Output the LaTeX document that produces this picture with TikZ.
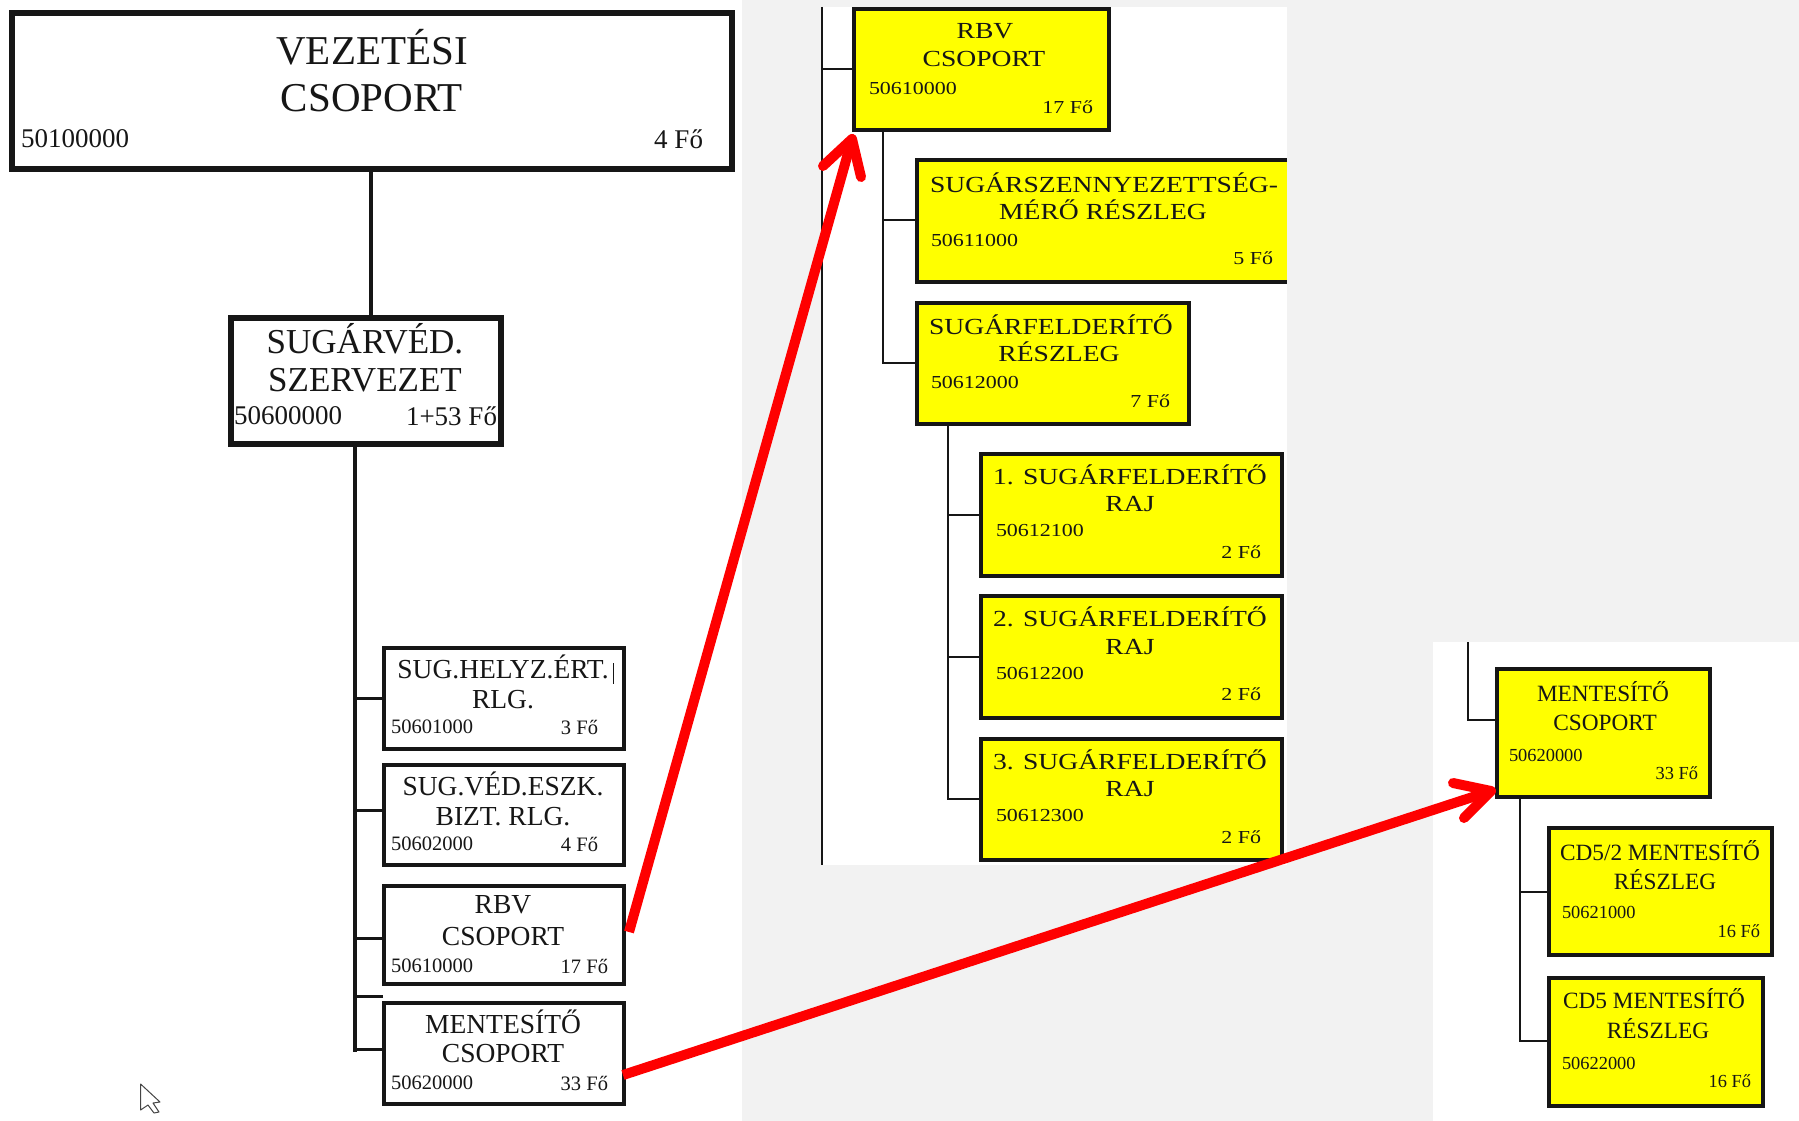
\documentclass[tikz,border=0pt]{standalone}
\usepackage{fontspec}
\setmainfont{Liberation Serif}
\newfontfamily\widefont[FakeStretch=1.2]{Liberation Serif}
\definecolor{pagegray}{HTML}{F2F2F2}
\definecolor{ink}{HTML}{161616}
\definecolor{arrowred}{HTML}{FE0000}
\definecolor{boxyellow}{HTML}{FFFF00}
\newcommand\fs[1]{\fontsize{#1}{#1}\selectfont}
\newcommand\bx[6]{\node[#2,minimum width={#5pt-#3pt},minimum height={#6pt-#4pt}] (#1) at ({(#3+#5)/2},{(#4+#6)/2}) {};}
\tikzset{
  x=1pt,y=-1pt,
  every node/.style={inner sep=0pt,outer sep=0pt,text=ink,align=center},
  plainbox/.style={draw=ink,fill=white,line width=3.6pt,rectangle},
  bigbox/.style={draw=ink,fill=white,line width=5.4pt,rectangle},
  ybox/.style={draw=ink,fill=boxyellow,line width=4.8pt,rectangle},
  yfill/.style={fill=boxyellow,rectangle},
  link/.style={draw=ink,line width=3pt},
  thinlink/.style={draw=ink,line width=2pt},
  redline/.style={draw=arrowred,line width=10pt},
  redhead/.style={draw=arrowred,line width=10pt,line cap=round,line join=round},
  hA/.style={font=\fs{41}},
  hB/.style={font=\fs{35}},
  hC/.style={font=\fs{27.5}},
  nA/.style={font=\fs{27}},
  nC/.style={font=\fs{20.5}},
  wT/.style={font=\widefont\fs{23}},
  wN/.style={font=\widefont\fs{18.3}},
  rT/.style={font=\fs{23.3}},
  rN/.style={font=\fs{18.4}},
}
\begin{document}
\begin{tikzpicture}
\useasboundingbox (0,0) rectangle (1799,1121);
% backgrounds
\fill[pagegray] (0,0) rectangle (1799,1121);
\fill[white] (0,0) rectangle (742,1121);
\fill[white] (822,7) rectangle (1287,865);
\fill[white] (1433,642) rectangle (1799,1121);

% ---------- left column ----------
\bx{vez}{bigbox}{12}{13}{732}{169}
\bx{szerv}{bigbox}{231}{318}{501}{444}
\bx{lhely}{plainbox}{384}{648}{624}{749}
\bx{lved}{plainbox}{384}{765}{624}{865}
\bx{lrbv}{plainbox}{384}{886}{624}{984}
\bx{lment}{plainbox}{384}{1003}{624}{1104}

\draw[draw=ink,line width=3.4pt] (vez.south -| 371,0) -- (szerv.north -| 371,0);
\draw[draw=ink,line width=4.8pt] (vez.south -| 371,0) -- (371,272);
\coordinate (ltop) at (355,444);
\coordinate (lbot) at (355,1052);
\draw[link,line width=3.4pt] (ltop) -- (lbot);
\draw[link] (lhely.west) -- (lhely.west -| ltop);
\draw[link] (lved.west |- 0,810) -- (355,810);
\draw[link] (lrbv.west |- 0,938) -- (355,938);
\coordinate (lstub) at (383,996);
\draw[link] (lstub) -- (lstub -| ltop);
\draw[link] (lment.west |- 0,1049) -- (355,1049);

\node[hA] (t1) at (372,47) {VEZETÉSI};
\node[hA] (t2) at (372,98) {CSOPORT};
\node[nA,anchor=west] (t3) at (21,139) {50100000};
\node[nA,anchor=east] (t4) at (703,139) {4 Fő};

\node[hB] (t5) at (365,339) {SUGÁRVÉD.};
\node[hB] (t6) at (365,380) {SZERVEZET};
\node[nA,anchor=west] (t7) at (234,416) {50600000};
\node[nA,anchor=east] (t8) at (497,416) {1+53 Fő};

\node[hC] (a1) at (503,667) {SUG.HELYZ.ÉRT.};
\node[hC] (a2) at (503,700) {RLG.};
\node[nC,anchor=west] (a3) at (391,727) {50601000};
\node[nC,anchor=east] (a4) at (598,727) {3 Fő};
\draw[draw=ink,line width=1.2pt] (613.5,663) -- (613.5,684);

\node[hC] (b1) at (503,784) {SUG.VÉD.ESZK.};
\node[hC] (b2) at (503,817) {BIZT. RLG.};
\node[nC,anchor=west] (b3) at (391,844) {50602000};
\node[nC,anchor=east] (b4) at (598,844) {4 Fő};

\node[hC] (c1) at (503,905) {RBV};
\node[hC] (c2) at (503,937) {CSOPORT};
\node[nC,anchor=west] (c3) at (391,966) {50610000};
\node[nC,anchor=east] (c4) at (608,966) {17 Fő};

\node[hC] (d1) at (503,1022) {MENTESÍTŐ};
\node[hC] (d2) at (503,1054) {CSOPORT};
\node[nC,anchor=west] (d3) at (391,1083) {50620000};
\node[nC,anchor=east] (d4) at (608,1083) {33 Fő};

% mouse cursor
\draw[draw=ink!80,fill=white,line width=1pt,line join=round]
  (140.6,1084) -- (140.6,1110) -- (148,1105) -- (154,1113) -- (159,1112) -- (153,1103) -- (160,1102) -- cycle;

% ---------- middle panel ----------
\coordinate (mtop) at (822,7);
\coordinate (mbot) at (822,865);
\draw[link,line width=2.6pt] (mtop) -- (mbot);

\bx{mrbv}{ybox}{854}{9}{1109}{130}
\bx{mmero}{yfill}{917}{160}{1287}{282}
\draw[draw=ink,line width=4.8pt,line join=miter] (mmero.north east) -- (mmero.north west) -- (mmero.south west) -- (mmero.south east);
\bx{mfeld}{ybox}{917}{303}{1189}{424}
\bx{mr1}{ybox}{981}{454}{1282}{576}
\bx{mr2}{ybox}{981}{596}{1282}{718}
\bx{mr3}{ybox}{981}{739}{1282}{860}

\draw[link,line width=2.6pt] (mrbv.west |- 0,69) -- (822,69);
\coordinate (mta) at (883,130);
\draw[link,line width=2.6pt] (mta) -- (883,363) -- (mfeld.west |- 0,363);
\draw[link,line width=2.6pt] (883,220) -- (mmero.west |- 0,220);
\coordinate (mtb) at (948,424);
\draw[link,line width=2.6pt] (mtb) -- (948,799) -- (mr3.west |- 0,799);
\draw[link,line width=2.6pt] (948,515) -- (mr1.west |- 0,515);
\draw[link,line width=2.6pt] (948,657) -- (mr2.west |- 0,657);

\node[wT] (e1) at (985,31) {RBV};
\node[wT] (e2) at (984,59) {CSOPORT};
\node[wN,anchor=west] (e3) at (869,89) {50610000};
\node[wN,anchor=east] (e4) at (1093,107) {17 Fő};

\node[wT,anchor=west] (f1) at (930,183) {SUGÁRSZENNYEZETTSÉG-};
\node[wT] (f2) at (1103,210) {MÉRŐ RÉSZLEG};
\node[wN,anchor=west] (f3) at (931,241) {50611000};
\node[wN,anchor=east] (f4) at (1273,258) {5 Fő};

\node[wT] (g1) at (1051,325) {SUGÁRFELDERÍTŐ};
\node[wT] (g2) at (1059,352) {RÉSZLEG};
\node[wN,anchor=west] (g3) at (931,383) {50612000};
\node[wN,anchor=east] (g4) at (1170,401) {7 Fő};

\node[wT] (h1) at (1130,475) {1. SUGÁRFELDERÍTŐ};
\node[wT] (h2) at (1130,504) {RAJ};
\node[wN,anchor=west] (h3) at (996,530) {50612100};
\node[wN,anchor=east] (h4) at (1261,552) {2 Fő};

\node[wT] (i1) at (1130,617) {2. SUGÁRFELDERÍTŐ};
\node[wT] (i2) at (1130,647) {RAJ};
\node[wN,anchor=west] (i3) at (996,673) {50612200};
\node[wN,anchor=east] (i4) at (1261,694) {2 Fő};

\node[wT] (j1) at (1130,760) {3. SUGÁRFELDERÍTŐ};
\node[wT] (j2) at (1130,789) {RAJ};
\node[wN,anchor=west] (j3) at (996,815) {50612300};
\node[wN,anchor=east] (j4) at (1261,837) {2 Fő};

% ---------- right panel ----------
\bx{rment}{ybox}{1497}{669}{1710}{797}
\bx{rcd2}{ybox}{1549}{828}{1772}{955}
\bx{rcd5}{ybox}{1549}{978}{1763}{1106}

\coordinate (rtop) at (1468,642);
\draw[link,line width=2.6pt] (rtop) -- (1468,720) -- (rment.west |- 0,720);
\coordinate (rta) at (1520,797);
\draw[link,line width=2.6pt] (rta) -- (1520,1041) -- (rcd5.west |- 0,1041);
\draw[link,line width=2.6pt] (1520,892) -- (rcd2.west |- 0,892);

\node[rT] (k1) at (1603,692) {MENTESÍTŐ};
\node[rT] (k2) at (1605,723) {CSOPORT};
\node[rN,anchor=west] (k3) at (1509,755) {50620000};
\node[rN,anchor=east] (k4) at (1698,773) {33 Fő};

\node[rT] (l1) at (1660,851) {CD5/2 MENTESÍTŐ};
\node[rT] (l2) at (1665,880) {RÉSZLEG};
\node[rN,anchor=west] (l3) at (1562,912) {50621000};
\node[rN,anchor=east] (l4) at (1760,931) {16 Fő};

\node[rT] (m1) at (1654,999) {CD5 MENTESÍTŐ};
\node[rT] (m2) at (1658,1029) {RÉSZLEG};
\node[rN,anchor=west] (m3) at (1562,1063) {50622000};
\node[rN,anchor=east] (m4) at (1751,1081) {16 Fő};

% ---------- red arrows ----------
\coordinate (s1) at (629,932);
\coordinate (s2) at (623,1075);
\coordinate (tip1) at (852,139);
\coordinate (tip2) at (1491,791);
\draw[redline] (s1) -- (tip1);
\draw[redline] (s2) -- (tip2);
\draw[redhead] (823,166) -- (tip1) -- (861,177);
\draw[redhead] (1453,783) -- (tip2) -- (1464,818);
\end{tikzpicture}
\end{document}
